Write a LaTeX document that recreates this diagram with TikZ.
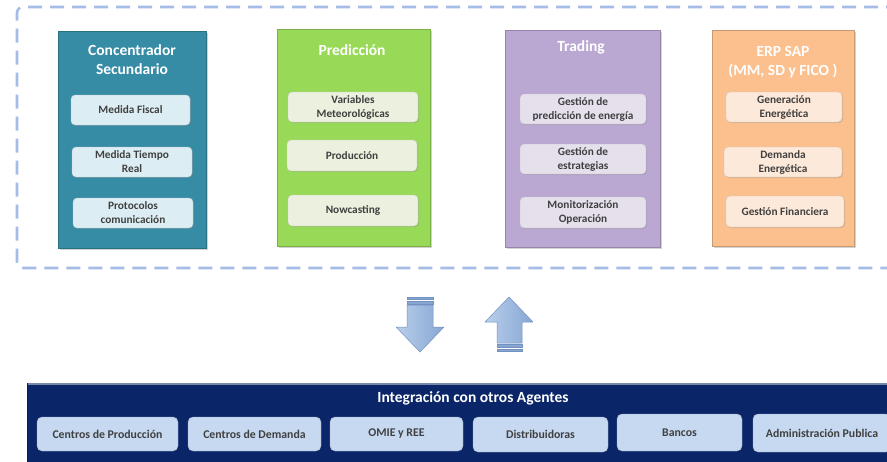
\documentclass[tikz,border=0pt]{standalone}
\usepackage{fontspec}
\setmainfont{Carlito}
\usetikzlibrary{shadows}
\definecolor{frameblue}{RGB}{165,188,230}
\definecolor{tealP}{RGB}{54,139,165}
\definecolor{tealI}{RGB}{220,238,243}
\definecolor{greenP}{RGB}{152,218,88}
\definecolor{greenI}{RGB}{235,241,222}
\definecolor{purpP}{RGB}{186,168,210}
\definecolor{purpI}{RGB}{230,224,236}
\definecolor{orgP}{RGB}{251,192,142}
\definecolor{orgI}{RGB}{253,233,217}
\definecolor{navy}{RGB}{10,37,104}
\definecolor{boxblue}{RGB}{198,217,241}
\definecolor{txtgray}{RGB}{64,64,64}
\definecolor{arrA}{RGB}{185,207,235}
\definecolor{arrB}{RGB}{135,166,212}
\definecolor{arrD}{RGB}{115,145,190}
\begin{document}
\begin{tikzpicture}[x=1pt,y=-1pt,
  panel/.style={draw=#1!80!black, line width=0.6pt, fill=#1, inner sep=0pt,
    drop shadow={shadow xshift=1.5pt,shadow yshift=-1.5pt,opacity=0.35}},
  inbox/.style={draw=#1!85!black, line width=0.4pt, fill=#1, rounded corners=4pt,
    inner sep=1pt, align=center, text=txtgray,
    font=\fontsize{11.3}{14}\selectfont\bfseries,
    drop shadow={shadow xshift=1pt,shadow yshift=-1pt,opacity=0.3}},
  ptitle/.style={text=white, align=center, font=\fontsize{15.5}{19}\selectfont\bfseries},
  agent/.style={fill=boxblue, draw=boxblue!80!black, line width=0.4pt, rounded corners=5pt,
    inner sep=1pt, text=txtgray, font=\fontsize{11.8}{13}\selectfont\bfseries},
  blockarrow/.style={left color=arrA, right color=arrB, draw=arrD, line width=0.5pt, line join=round},
  stripe/.style={fill=arrB, draw=arrD, line width=0.3pt}
]
\path[use as bounding box] (0,0) rectangle (887,461);

% dashed frame
\draw[frameblue, line width=2.6pt, dash pattern=on 14pt off 8pt, rounded corners=6pt]
  (900,7) -- (17,7) -- (17,268) -- (900,268);

% panels
\node[panel=tealP, minimum width=148pt, minimum height=217pt] (conc) at (132,139.5) {};
\node[panel=greenP, minimum width=153pt, minimum height=217pt] (pred) at (353.5,137.5) {};
\node[panel=purpP, minimum width=155pt, minimum height=217pt] (trad) at (582.5,138.5) {};
\node[panel=orgP, minimum width=142pt, minimum height=216pt] (erp) at (783,138) {};

% titles
\node[ptitle] (concT) at (132,59.5) {Concentrador\\Secundario};
\node[ptitle] (predT) at (352,50) {Predicción};
\node[ptitle] (tradT) at (581,47) {Trading};
\node[ptitle] (erpT) at (783,62.5) {ERP SAP\\(MM, SD y FICO )};

% inner boxes
\node[inbox=tealI, minimum width=119pt, minimum height=30pt] (mf) at (130.5,110) {Medida Fiscal};
\node[inbox=tealI, minimum width=120pt, minimum height=30pt] (mtr) at (132,162) {Medida Tiempo\\Real};
\node[inbox=tealI, minimum width=120pt, minimum height=30pt] (prot) at (133,213) {Protocolos\\comunicación};

\node[inbox=greenI, minimum width=130pt, minimum height=30pt] (var) at (353,107) {Variables\\Meteorológicas};
\node[inbox=greenI, minimum width=130pt, minimum height=31pt] (prod) at (352,155.5) {Producción};
\node[inbox=greenI, minimum width=130pt, minimum height=31pt] (now) at (353,210.5) {Nowcasting};

\node[inbox=purpI, minimum width=126pt, minimum height=30pt] (gpe) at (583,109) {Gestión de\\predicción de energía};
\node[inbox=purpI, minimum width=126pt, minimum height=30pt] (ges) at (583,159) {Gestión de\\estrategias};
\node[inbox=purpI, minimum width=126pt, minimum height=31pt] (mon) at (583,212.5) {Monitorización\\Operación};

\node[inbox=orgI, minimum width=116pt, minimum height=30pt] (gen) at (784,107) {Generación\\Energética};
\node[inbox=orgI, minimum width=118pt, minimum height=30pt] (dem) at (783,162) {Demanda\\Energética};
\node[inbox=orgI, minimum width=118pt, minimum height=31pt] (gf) at (785,211.5) {Gestión Financiera};

% block arrows
\draw[stripe] (407,297) rectangle (433,299.5);
\draw[stripe] (407,301.5) rectangle (433,304);
\draw[blockarrow] (407,305) -- (433,305) -- (433,327) -- (444,327) -- (420,352)
  -- (396,327) -- (407,327) -- cycle;
\draw[blockarrow] (509,297) -- (533,322) -- (522,322) -- (522,343) -- (497,343)
  -- (497,322) -- (485,322) -- cycle;
\draw[stripe] (497,344.5) rectangle (522,347);
\draw[stripe] (497,349) rectangle (522,351.5);

% bottom bar
\node[fill=navy, draw=navy!80!black, line width=0.5pt, anchor=north west,
  minimum width=880pt, minimum height=95pt, inner sep=0pt,
  drop shadow={shadow xshift=1pt,shadow yshift=-1pt,opacity=0.3}] (bar) at (27,383) {};
\draw[navy!55!white, line width=1.2pt] (bar.north west) ++(0.5,1) -- ++(880,0);
\node[text=white, font=\fontsize{15.5}{18}\selectfont\bfseries] (barT) at (473,398) {Integración con otros Agentes};

\node[agent, minimum width=141pt, minimum height=34pt] (cp) at (107.5,434) {Centros de Producción};
\node[agent, minimum width=133pt, minimum height=34pt] (cd) at (254.5,434) {Centros de Demanda};
\node[agent, minimum width=133pt, minimum height=34pt] (omie) at (396.5,434) {OMIE y REE};
\node[agent, minimum width=135pt, minimum height=35pt] (dist) at (540.5,434.5) {Distribuidoras};
\node[agent, minimum width=125pt, minimum height=37pt] (ban) at (679.5,432.5) {Bancos};
\node[agent, minimum width=138pt, minimum height=38pt] (adm) at (822,433) {Administración Publica};
\end{tikzpicture}
\end{document}
